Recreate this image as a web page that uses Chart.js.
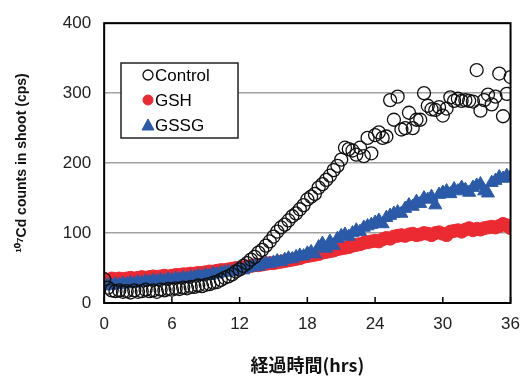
<!DOCTYPE html>
<html>
<head>
<meta charset="utf-8">
<script src="https://cdn.jsdelivr.net/npm/chart.js@4/dist/chart.umd.min.js"></script>
<style>
  html, body { margin: 0; padding: 0; background: #fff; }
  #wrap { width: 523px; height: 378px; }
</style>
</head>
<body>
<div id="wrap"><canvas id="cdChart"></canvas></div>
<script>
// Cd counts in shoot, sampled every 20 min (3 points per hour), 0-36 hrs
const seriesNames = ['Control', 'GSH', 'GSSG'];
const xTicks = [0, 6, 12, 18, 24, 30, 36];
const yTicks = [0, 100, 200, 300, 400];

const controlCps = [
  34, 22, 18,  17, 18, 16,  17, 15, 18,  16, 17, 19,  17, 18, 16,  19, 18, 20,
  19, 21, 20,  22, 21, 23,  23, 25, 24,  26, 27, 29,  30, 33, 36,  38, 41, 45,
  48, 53, 57,  62, 66, 72,  76, 82, 88,  95, 102, 108,  112, 118, 124,  128, 134, 140,
  148, 152, 156,  165, 170, 176,  182, 190, 196,  205, 222, 220,  218, 212, 222,  210, 236, 214,
  240, 244, 236,  238, 290, 262,  295, 248, 250,  272, 250, 262,  262, 300, 282,  277, 276, 280,
  268, 278, 294,  289, 292, 289,  290, 289, 288,  333, 275, 290,  298, 284, 295,  328, 267, 299,
  323
];
const gshCps = [
  34, 33, 35,  34, 35, 34,  35, 36, 35,  36, 37, 36,  37, 38, 37,  38, 39, 38,
  39, 40, 40,  41, 41, 42,  42, 43, 43,  44, 45, 45,  46, 47, 47,  48, 49, 50,
  50, 51, 52,  53, 54, 54,  55, 56, 57,  57, 58, 59,  60, 61, 62,  63, 64, 66,
  67, 68, 69,  70, 72, 73,  74, 75, 77,  78, 79, 80,  82, 83, 84,  86, 87, 88,
  89, 88, 91,  93, 92, 95,  96, 97, 96,  98, 99, 97,  98, 100, 99,  97, 100, 101,
  99, 97, 102,  103, 104, 102,  105, 107, 104,  106, 105, 107,  108, 109, 108,  110, 113, 111,
  107
];
const gssgCps = [
  24, 26, 25,  27, 26, 28,  27, 29, 28,  30, 29, 31,  30, 32, 31,  33, 32, 34,
  33, 35, 34,  36, 35, 37,  37, 39, 38,  40, 39, 42,  41, 43, 44,  45, 44, 47,
  48, 47, 50,  51, 53, 52,  55, 57, 56,  58, 60, 59,  62, 64, 63,  66, 68, 67,
  71, 73, 70,  80, 85, 78,  88, 82, 92,  96, 98, 95,  100, 104, 102,  108, 110, 112,
  115, 118, 113,  122, 125, 128,  130, 128, 135,  140, 138, 145,  142, 150, 148,  152, 140, 155,
  158, 160, 156,  163, 160, 165,  162, 158, 165,  168, 170, 160,  157, 172, 175,  180, 178, 182,
  180
];

const sampleHours = controlCps.map((_, i) => i / 3);
const toPoints = vals => vals.map((v, i) => ({ x: sampleHours[i], y: v }));

const FONT = '"Liberation Sans", Arial, sans-serif';

// black frame round the plot + inward x ticks
const framePlugin = {
  id: 'frame',
  afterDatasetsDraw(chart) {
    const { ctx, chartArea: a, scales } = chart;
    ctx.save();
    ctx.strokeStyle = '#000';
    ctx.lineWidth = 1.5;
    ctx.beginPath();
    xTicks.forEach(t => {
      const px = scales.x.getPixelForValue(t);
      ctx.moveTo(px, a.bottom);
      ctx.lineTo(px, a.bottom - 6);
    });
    ctx.stroke();
    ctx.lineWidth = 2;
    ctx.strokeRect(a.left, a.top, a.right - a.left, a.bottom - a.top);
    ctx.restore();
  }
};

// boxed legend inside the plot, upper left
const boxLegend = {
  id: 'boxLegend',
  afterDraw(chart) {
    const ctx = chart.ctx;
    const x0 = 121, y0 = 63, w = 117, h = 75;
    ctx.save();
    ctx.fillStyle = '#fff';
    ctx.fillRect(x0, y0, w, h);
    ctx.strokeStyle = '#222';
    ctx.lineWidth = 1.5;
    ctx.strokeRect(x0, y0, w, h);
    ctx.font = '17px ' + FONT;
    ctx.textBaseline = 'middle';
    chart.data.datasets.forEach((ds, i) => {
      const cy = y0 + 12 + i * 25;
      ctx.fillStyle = ds.backgroundColor;
      ctx.strokeStyle = ds.borderColor;
      ctx.lineWidth = ds.borderWidth;
      ctx.beginPath();
      if (ds.pointStyle === 'triangle') {
        ctx.moveTo(148, cy - 6);
        ctx.lineTo(154, cy + 5);
        ctx.lineTo(142, cy + 5);
        ctx.closePath();
      } else {
        ctx.arc(148, cy, 5, 0, Math.PI * 2);
      }
      ctx.fill();
      ctx.stroke();
      ctx.fillStyle = '#000';
      ctx.fillText(ds.label, 155, cy + 1);
    });
    ctx.restore();
  }
};

new Chart(document.getElementById('cdChart').getContext('2d'), {
  type: 'scatter',
  data: {
    datasets: [{
      label: seriesNames[0],
      data: toPoints(controlCps),
      pointStyle: 'circle',
      pointRadius: 6.5,
      backgroundColor: 'rgba(0,0,0,0)',
      borderColor: '#111',
      borderWidth: 1.3,
      order: 0
    }, {
      label: seriesNames[1],
      data: toPoints(gshCps),
      pointStyle: 'circle',
      pointRadius: 6.5,
      backgroundColor: '#ec2a32',
      borderColor: '#ec2a32',
      borderWidth: 1,
      order: 2
    }, {
      label: seriesNames[2],
      data: toPoints(gssgCps),
      pointStyle: 'triangle',
      pointRadius: 7.5,
      backgroundColor: '#2a5aa8',
      borderColor: '#2a5aa8',
      borderWidth: 1,
      order: 1
    }]
  },
  options: {
    responsive: true,
    maintainAspectRatio: false,
    animation: false,
    layout: { padding: { top: 18, right: 5, left: 14, bottom: 2 } },
    plugins: {
      legend: { display: false },
      tooltip: { enabled: false }
    },
    scales: {
      x: {
        type: 'linear',
        min: 0,
        max: 36,
        afterBuildTicks: axis => { axis.ticks = xTicks.map(v => ({ value: v })); },
        grid: { display: false },
        border: { display: false },
        ticks: { color: '#222', font: { family: FONT, size: 17 }, padding: 3, maxRotation: 0 },
        title: {
          display: true,
          text: '経過時間(hrs)',
          color: '#111',
          font: { family: '"Noto Sans CJK JP", "Liberation Sans", sans-serif', size: 18, weight: 'bold' },
          padding: { top: 17, bottom: 0 }
        }
      },
      y: {
        min: 0,
        max: 400,
        afterBuildTicks: axis => { axis.ticks = yTicks.map(v => ({ value: v })); },
        grid: { color: '#a0a0a0', lineWidth: 1.5, drawTicks: false },
        border: { display: false },
        ticks: { color: '#222', font: { family: FONT, size: 17 }, padding: 13 },
        title: {
          display: true,
          text: '¹⁰⁷Cd counts in shoot (cps)',
          color: '#111',
          font: { family: FONT, size: 14, weight: 'bold' },
          padding: { top: 0, bottom: 19 }
        }
      }
    }
  },
  plugins: [framePlugin, boxLegend]
});
</script>
</body>
</html>
